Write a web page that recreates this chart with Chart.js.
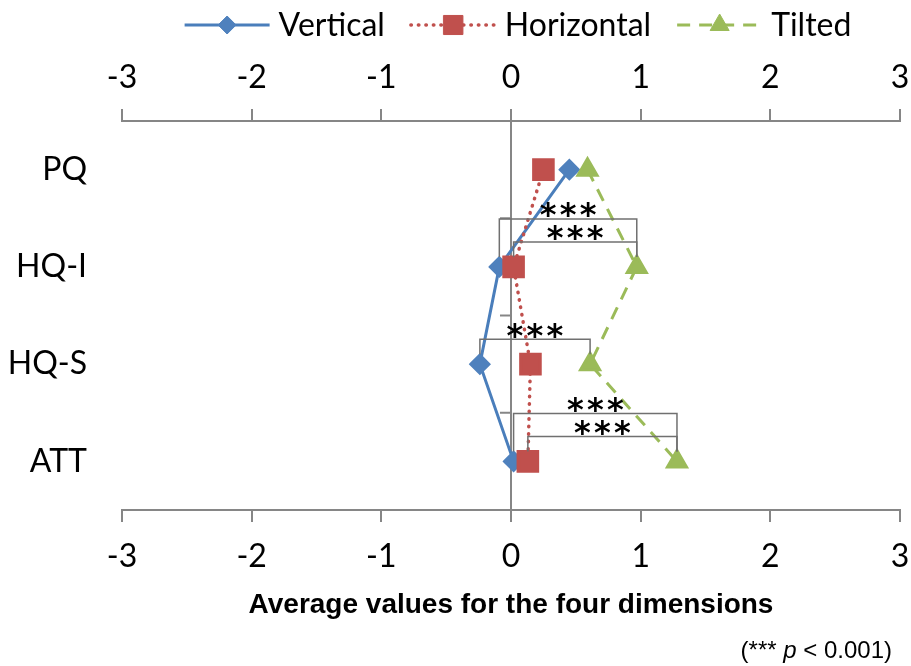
<!DOCTYPE html>
<html>
<head>
<meta charset="utf-8">
<script src="https://cdn.jsdelivr.net/npm/chart.js@4/dist/chart.umd.min.js"></script>
<style>
	html, body { margin: 0; padding: 0; background: #fff; }
	#cadre { width: 911px; height: 666px; position: relative; }
</style>
</head>
<body>
<div id="cadre"><canvas id="graphique-dimensions"></canvas></div>
<script>
// Donnees
const categories = ["PQ", "HQ-I", "HQ-S", "ATT"];
const seriesNames = ["Vertical", "Horizontal", "Tilted"];
const vertical = [0.45, -0.09, -0.24, 0.02];
const horizontal = [0.25, 0.02, 0.15, 0.13];
const tilted = [0.59, 0.97, 0.61, 1.28];
const xTicks = [-3, -2, -1, 0, 1, 2, 3];
// comparaisons significatives (indice de serie, categorie)
const bracketCats = ["HQ-I", "HQ-I", "HQ-S", "ATT", "ATT"];
const bracketFrom = [0, 1, 0, 0, 1];
const bracketTo = [2, 2, 2, 2, 2];
const bracketLevel = [2, 1, 1, 2, 1];
const bracketLabel = "***";
const axisTitle = "Average values for the four dimensions";
const footNote = ["(*** ", "p", " < 0.001)"];

const GRIS = "#868686";
const POLICE = "Lato, 'Open Sans', sans-serif";

//Legende dessinee a la main : trait + marqueur au milieu
const legendeLigne = {
	id: "legendeLigne",
	afterDraw(chart){
		const ctx = chart.ctx;
		const area = chart.chartArea;
		ctx.save();
		ctx.font = "32px " + POLICE;
		const lineW = 85, gapTxt = 9, gapItem = 26, y = 25;
		const items = chart.data.datasets.map(ds => ({ds: ds, w: ctx.measureText(ds.label).width}));
		let total = gapItem * (items.length - 1);
		for(const it of items)
			total += lineW + gapTxt + it.w;
		let x = (area.left + area.right) / 2 - total / 2 + 7;
		for(const it of items){
			const ds = it.ds;
			ctx.strokeStyle = ds.borderColor;
			ctx.lineWidth = ds.borderWidth;
			ctx.lineCap = ds.borderCapStyle || "butt";
			ctx.setLineDash(ds.borderDash || []);
			ctx.beginPath();
			ctx.moveTo(x, y);
			ctx.lineTo(x + lineW, y);
			ctx.stroke();
			ctx.setLineDash([]);
			ctx.fillStyle = ds.pointBackgroundColor;
			ctx.strokeStyle = ds.pointBorderColor;
			ctx.lineWidth = 1;
			Chart.helpers.drawPoint(ctx, {pointStyle: ds.pointStyle, radius: ds.pointRadius, rotation: 0, borderWidth: 1}, x + lineW / 2, y);
			ctx.fillStyle = "#000";
			ctx.textAlign = "left";
			ctx.textBaseline = "middle";
			ctx.fillText(ds.label, x + lineW + gapTxt, y + 1);
			x += lineW + gapTxt + it.w + gapItem;
		}
		ctx.restore();
	}
};

//Petits traits a gauche de l'axe zero entre les categories
const axeZero = {
	id: "axeZero",
	beforeDatasetsDraw(chart){
		const {ctx, scales: {x, y}} = chart;
		const x0 = x.getPixelForValue(0);
		ctx.save();
		ctx.strokeStyle = GRIS;
		ctx.lineWidth = 2;
		for(let i = 0; i < categories.length - 1; i++){
			const yb = (y.getPixelForValue(i) + y.getPixelForValue(i + 1)) / 2;
			ctx.beginPath();
			ctx.moveTo(x0 - 11, yb);
			ctx.lineTo(x0, yb);
			ctx.stroke();
		}
		ctx.restore();
	}
};

//Crochets de significativite + asterisques
const crochets = {
	id: "crochets",
	afterDatasetsDraw(chart){
		const {ctx, scales: {x, y}} = chart;
		const series = [vertical, horizontal, tilted];
		ctx.save();
		ctx.strokeStyle = "#707070";
		ctx.lineWidth = 1.5;
		ctx.font = "bold 32px 'DejaVu Sans'";
		ctx.fillStyle = "#000";
		ctx.textAlign = "center";
		ctx.textBaseline = "alphabetic";
		const m = ctx.measureText("*");
		const dy = (m.actualBoundingBoxAscent - m.actualBoundingBoxDescent) / 2;
		for(let i = 0; i < bracketCats.length; i++){
			const ci = categories.indexOf(bracketCats[i]);
			const yc = y.getPixelForValue(ci);
			const xa = x.getPixelForValue(series[bracketFrom[i]][ci]);
			const xb = x.getPixelForValue(series[bracketTo[i]][ci]);
			const yTop = yc - 25 - (bracketLevel[i] - 1) * 23;
			const yPied = yc - 10;
			ctx.beginPath();
			ctx.moveTo(xa, yPied);
			ctx.lineTo(xa, yTop);
			ctx.lineTo(xb, yTop);
			ctx.lineTo(xb, yPied);
			ctx.stroke();
			const xm = (xa + xb) / 2;
			const stars = bracketLabel.split("");
			for(let k = 0; k < stars.length; k++)
				ctx.fillText(stars[k], xm + (k - (stars.length - 1) / 2) * 20, yTop - 9 + dy);
		}
		ctx.restore();
	}
};

//Note en bas a droite
const noteBas = {
	id: "noteBas",
	afterDraw(chart){
		const ctx = chart.ctx;
		ctx.save();
		ctx.fillStyle = "#000";
		ctx.textBaseline = "alphabetic";
		const normal = "24px 'Liberation Sans', Arial, sans-serif";
		const italique = "italic 24px 'Liberation Sans', Arial, sans-serif";
		const fonts = [normal, italique, normal];
		let w = 0;
		for(let i = 0; i < footNote.length; i++){
			ctx.font = fonts[i];
			w += ctx.measureText(footNote[i]).width;
		}
		let x = 892 - w;
		for(let i = 0; i < footNote.length; i++){
			ctx.font = fonts[i];
			ctx.fillText(footNote[i], x, 658);
			x += ctx.measureText(footNote[i]).width;
		}
		ctx.restore();
	}
};

const poseTicks = scale => { scale.ticks = xTicks.map(v => ({value: v})); };

const data = {
	labels: categories,
	datasets: [{
		label: seriesNames[0],
		data: vertical,
		borderColor: "#4A7EBB",
		borderWidth: 3,
		pointStyle: "rectRot",
		pointRadius: 9,
		pointBackgroundColor: "#4F81BD",
		pointBorderColor: "#4F81BD",
		order: 3,
	}, {
		label: seriesNames[1],
		data: horizontal,
		borderColor: "#C0504D",
		borderWidth: 3.5,
		borderDash: [0.5, 7],
		borderCapStyle: "round",
		pointStyle: "rect",
		pointRadius: 13.5,
		pointBackgroundColor: "#C0504D",
		pointBorderColor: "#C0504D",
		order: 2,
	}, {
		label: seriesNames[2],
		data: tilted,
		borderColor: "#9BBB59",
		borderWidth: 3,
		borderDash: [13, 9],
		pointStyle: "triangle",
		pointRadius: 11,
		pointBackgroundColor: "#9BBB59",
		pointBorderColor: "#9BBB59",
		order: 1,
	}],
};

const config = {
	type: "line",
	data: data,
	options: {
		indexAxis: "y",
		responsive: true,
		maintainAspectRatio: false,
		animation: false,
		layout: {autoPadding: false, padding: {top: 40, left: 0, right: 11, bottom: 36}},
		plugins: {
			legend: {display: false},
			tooltip: {enabled: false},
		},
		scales: {
			y: {
				type: "category",
				position: "left",
				offset: true,
				grid: {display: false, drawTicks: false},
				border: {display: false},
				ticks: {color: "#000", padding: 35, font: {family: POLICE, size: 32}},
				afterFit: s => { s.width = 122; },
			},
			x: {
				type: "linear",
				position: "top",
				min: -3,
				max: 3,
				afterBuildTicks: poseTicks,
				grid: {
					color: c => (c.tick && c.tick.value === 0) ? GRIS : "rgba(0,0,0,0)",
					tickColor: GRIS,
					lineWidth: 2,
					tickLength: 12,
				},
				border: {display: true, color: GRIS, width: 2},
				ticks: {color: "#000", padding: 12, font: {family: POLICE, size: 32}},
				afterFit: s => { s.height = 81; s.paddingLeft = 0; s.paddingRight = 0; },
			},
			x2: {
				type: "linear",
				position: "bottom",
				display: true,
				min: -3,
				max: 3,
				afterBuildTicks: poseTicks,
				grid: {drawOnChartArea: false, color: GRIS, lineWidth: 2, tickLength: 12},
				border: {display: true, color: GRIS, width: 2},
				ticks: {color: "#000", padding: 15, font: {family: POLICE, size: 32}},
				title: {
					display: true,
					text: axisTitle,
					color: "#000",
					padding: {top: 0, bottom: 8},
					font: {family: "'Liberation Sans', Arial, sans-serif", size: 28, weight: "bold"},
				},
				afterFit: s => { s.height = 120; s.paddingLeft = 0; s.paddingRight = 0; },
			},
		},
	},
	plugins: [axeZero, crochets, legendeLigne, noteBas],
};

new Chart(document.querySelector("#graphique-dimensions"), config);
</script>
</body>
</html>
